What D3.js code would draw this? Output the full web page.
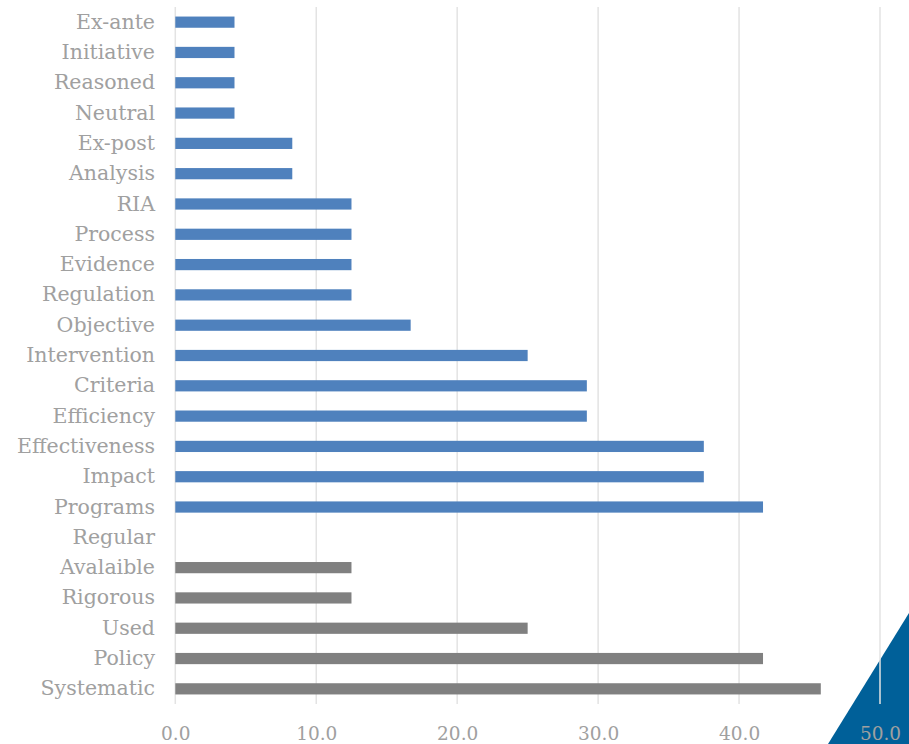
<!DOCTYPE html>
<html>
<head>
<meta charset="utf-8">
<script src="https://cdn.jsdelivr.net/npm/d3@7"></script>
<style>
  body { margin: 0; background: #fff; }
</style>
</head>
<body>
<div id="chart"></div>
<script>
// categories top to bottom
var categories = ['Ex-ante', 'Initiative', 'Reasoned', 'Neutral', 'Ex-post', 'Analysis', 'RIA',
    'Process', 'Evidence', 'Regulation', 'Objective', 'Intervention', 'Criteria', 'Efficiency',
    'Effectiveness', 'Impact', 'Programs', 'Regular', 'Avalaible', 'Rigorous', 'Used', 'Policy', 'Systematic'];
var values = [4.2, 4.2, 4.2, 4.2, 8.3, 8.3, 12.5, 12.5, 12.5, 12.5, 16.7, 25.0, 29.2, 29.2,
    37.5, 37.5, 41.7, 0, 12.5, 12.5, 25.0, 41.7, 45.8];
// first 17 categories blue, rest gray
var groups = ['a', 'a', 'a', 'a', 'a', 'a', 'a', 'a', 'a', 'a', 'a', 'a', 'a', 'a', 'a', 'a', 'a',
    'b', 'b', 'b', 'b', 'b', 'b'];
var ticks = [0, 10, 20, 30, 40, 50];

var data = categories.map(function(c, i) {
    return { name: c, value: values[i], group: groups[i] };
});

var width = 909, height = 744;

var svg = d3.select('#chart')
    .append('svg')
    .attr('width', width)
    .attr('height', height);

var xScale = d3.scaleLinear()
    .domain([0, 50])
    .range([175.3, 880]);

var yScale = d3.scaleBand()
    .domain(categories)
    .range([7, 704])
    .paddingInner(0.63)
    .paddingOuter(0.315);

var colorScale = d3.scaleOrdinal()
    .domain(['a', 'b'])
    .range(['#4f81bd', '#808080']);

// decorative triangle in the corner
svg.append('path')
    .attr('d', 'M828,744 L909,613 L909,744 Z')
    .attr('fill', '#006099');

// gridlines
svg.append('g')
    .selectAll('line')
    .data(ticks)
    .enter().append('line')
    .attr('x1', d => xScale(d))
    .attr('x2', d => xScale(d))
    .attr('y1', 7)
    .attr('y2', 704)
    .attr('stroke', '#e3e3e3')
    .attr('stroke-width', 1.5);

// bars
svg.selectAll('rect.bar')
    .data(data)
    .enter().append('rect')
    .attr('class', 'bar')
    .attr('x', xScale(0))
    .attr('y', d => yScale(d.name))
    .attr('width', d => xScale(d.value) - xScale(0))
    .attr('height', yScale.bandwidth())
    .attr('fill', d => colorScale(d.group));

// Y-Axis
var yAxis = svg.append('g')
    .attr('transform', 'translate(155,0)')
    .call(d3.axisLeft(yScale).tickSize(0).tickPadding(0));
yAxis.select('.domain').remove();
yAxis.selectAll('text')
    .attr('font-family', '"DejaVu Serif", serif')
    .attr('font-size', 20.5)
    .attr('fill', '#a0a0a0');

// X-Axis
var xAxis = svg.append('g')
    .attr('transform', 'translate(0,724)')
    .call(d3.axisBottom(xScale).tickValues(ticks).tickFormat(d3.format('.1f')).tickSize(0).tickPadding(0));
xAxis.select('.domain').remove();
xAxis.selectAll('text')
    .attr('dy', '0.85em')
    .attr('font-family', '"DejaVu Serif", serif')
    .attr('font-size', 18.5)
    .attr('fill', '#a0a0a0');
</script>
</body>
</html>
